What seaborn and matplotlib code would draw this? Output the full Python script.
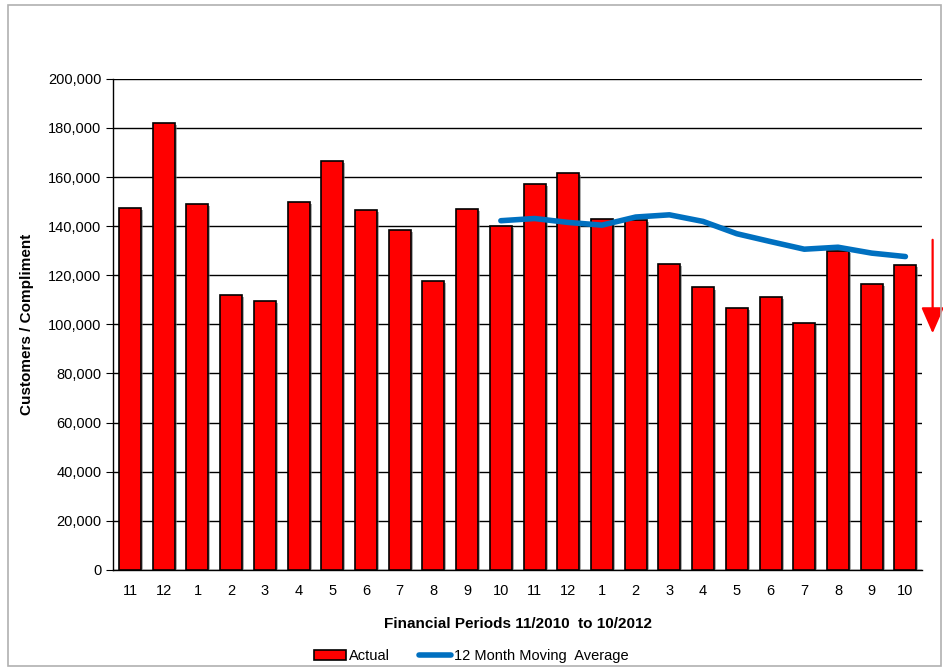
import pandas as pd
import matplotlib.pyplot as plt
import seaborn as sns
from matplotlib.patches import Rectangle, Patch, FancyArrowPatch
from matplotlib.lines import Line2D
import matplotlib.patheffects as pe

periods = ["11", "12", "1", "2", "3", "4", "5", "6", "7", "8", "9", "10",
           "11", "12", "1", "2", "3", "4", "5", "6", "7", "8", "9", "10"]
actual = [147500, 182000, 149000, 112000, 109500, 150000, 166500, 146500,
          138500, 117500, 147000, 140000, 157000, 161500, 143000, 142500,
          124500, 115000, 106500, 111000, 100500, 130000, 116500, 124000]
# 12 month moving average starts at the 12th period
moving_avg = [None] * 11 + [142200, 143100, 141500, 140400, 143700, 144600,
                            141900, 136900, 133700, 130600, 131400, 129000, 127600]

df = pd.DataFrame({"pos": range(len(periods)), "period": periods,
                   "actual": actual, "avg": moving_avg})

sns.set_style("white")
plt.rcParams["font.family"] = ["Liberation Sans", "DejaVu Sans"]
plt.rcParams["text.color"] = "black"
plt.rcParams["axes.labelcolor"] = "black"
plt.rcParams["xtick.color"] = "black"
plt.rcParams["ytick.color"] = "black"

fig = plt.figure(figsize=(9.43, 6.68), dpi=100)
ax = fig.add_axes([0.12, 0.147, 0.858, 0.735])

sns.barplot(data=df, x="pos", y="actual", color="#ff0000", saturation=1,
            edgecolor="black", linewidth=1.2, width=0.65, ax=ax, zorder=3)
for bar in ax.patches:
    bar.set_path_effects([pe.SimplePatchShadow(offset=(1.5, -1.5), shadow_rgbFace="#777777", alpha=0.6),
                          pe.Normal()])

sns.lineplot(data=df.dropna(), x="pos", y="avg", color="#0070c0", linewidth=4,
             ax=ax, zorder=4)

ax.set_ylim(0, 200000)
ax.set_xlim(-0.5, len(periods) - 0.5)
ax.set_yticks(range(0, 200001, 20000))
ax.set_yticklabels([f"{v:,}" for v in range(0, 200001, 20000)], fontsize=10.5)
ax.set_xticks(range(len(periods)))
ax.set_xticklabels(periods, fontsize=10.5)
ax.tick_params(axis="x", length=0, pad=10)
ax.set_xticks([p - 0.5 for p in range(len(periods) + 1)], minor=True)
ax.tick_params(axis="x", which="minor", length=5, color="black", direction="out")
ax.tick_params(axis="y", length=5, color="black", direction="out", left=True)
ax.yaxis.grid(True, color="black", linewidth=1, zorder=0)
ax.set_axisbelow(True)
for side in ["top", "right"]:
    ax.spines[side].set_visible(False)
for side in ["left", "bottom"]:
    ax.spines[side].set_color("black")
    ax.spines[side].set_linewidth(1)

ax.set_xlabel("Financial Periods 11/2010  to 10/2012", fontsize=11, fontweight="bold", labelpad=14)
ax.set_ylabel("Customers / Compliment", fontsize=11, fontweight="bold", labelpad=10)

handles = [Patch(facecolor="#ff0000", edgecolor="black", linewidth=1.2),
           Line2D([0], [0], color="#0070c0", linewidth=4)]
fig.legend(handles, ["Actual", "12 Month Moving  Average"], loc="lower center",
           bbox_to_anchor=(0.5, -0.012), ncol=2, frameon=False, fontsize=10.5,
           handlelength=2.2, handletextpad=0.2, columnspacing=2.0)

# red downward trend arrow at the right edge
fig.patches.append(FancyArrowPatch(
    (0.989, 0.641), (0.989, 0.501), transform=fig.transFigure,
    arrowstyle="-|>,head_width=0.35,head_length=0.8", color="#ff0000",
    linewidth=1.6, mutation_scale=20, shrinkA=0, shrinkB=0))

# light grey frame around the chart
fig.patches.append(Rectangle((0.008, 0.003), 0.99, 0.99, transform=fig.transFigure,
                             fill=False, edgecolor="#b0b0b0", linewidth=1.2))

fig.savefig("out.png", dpi=100)
